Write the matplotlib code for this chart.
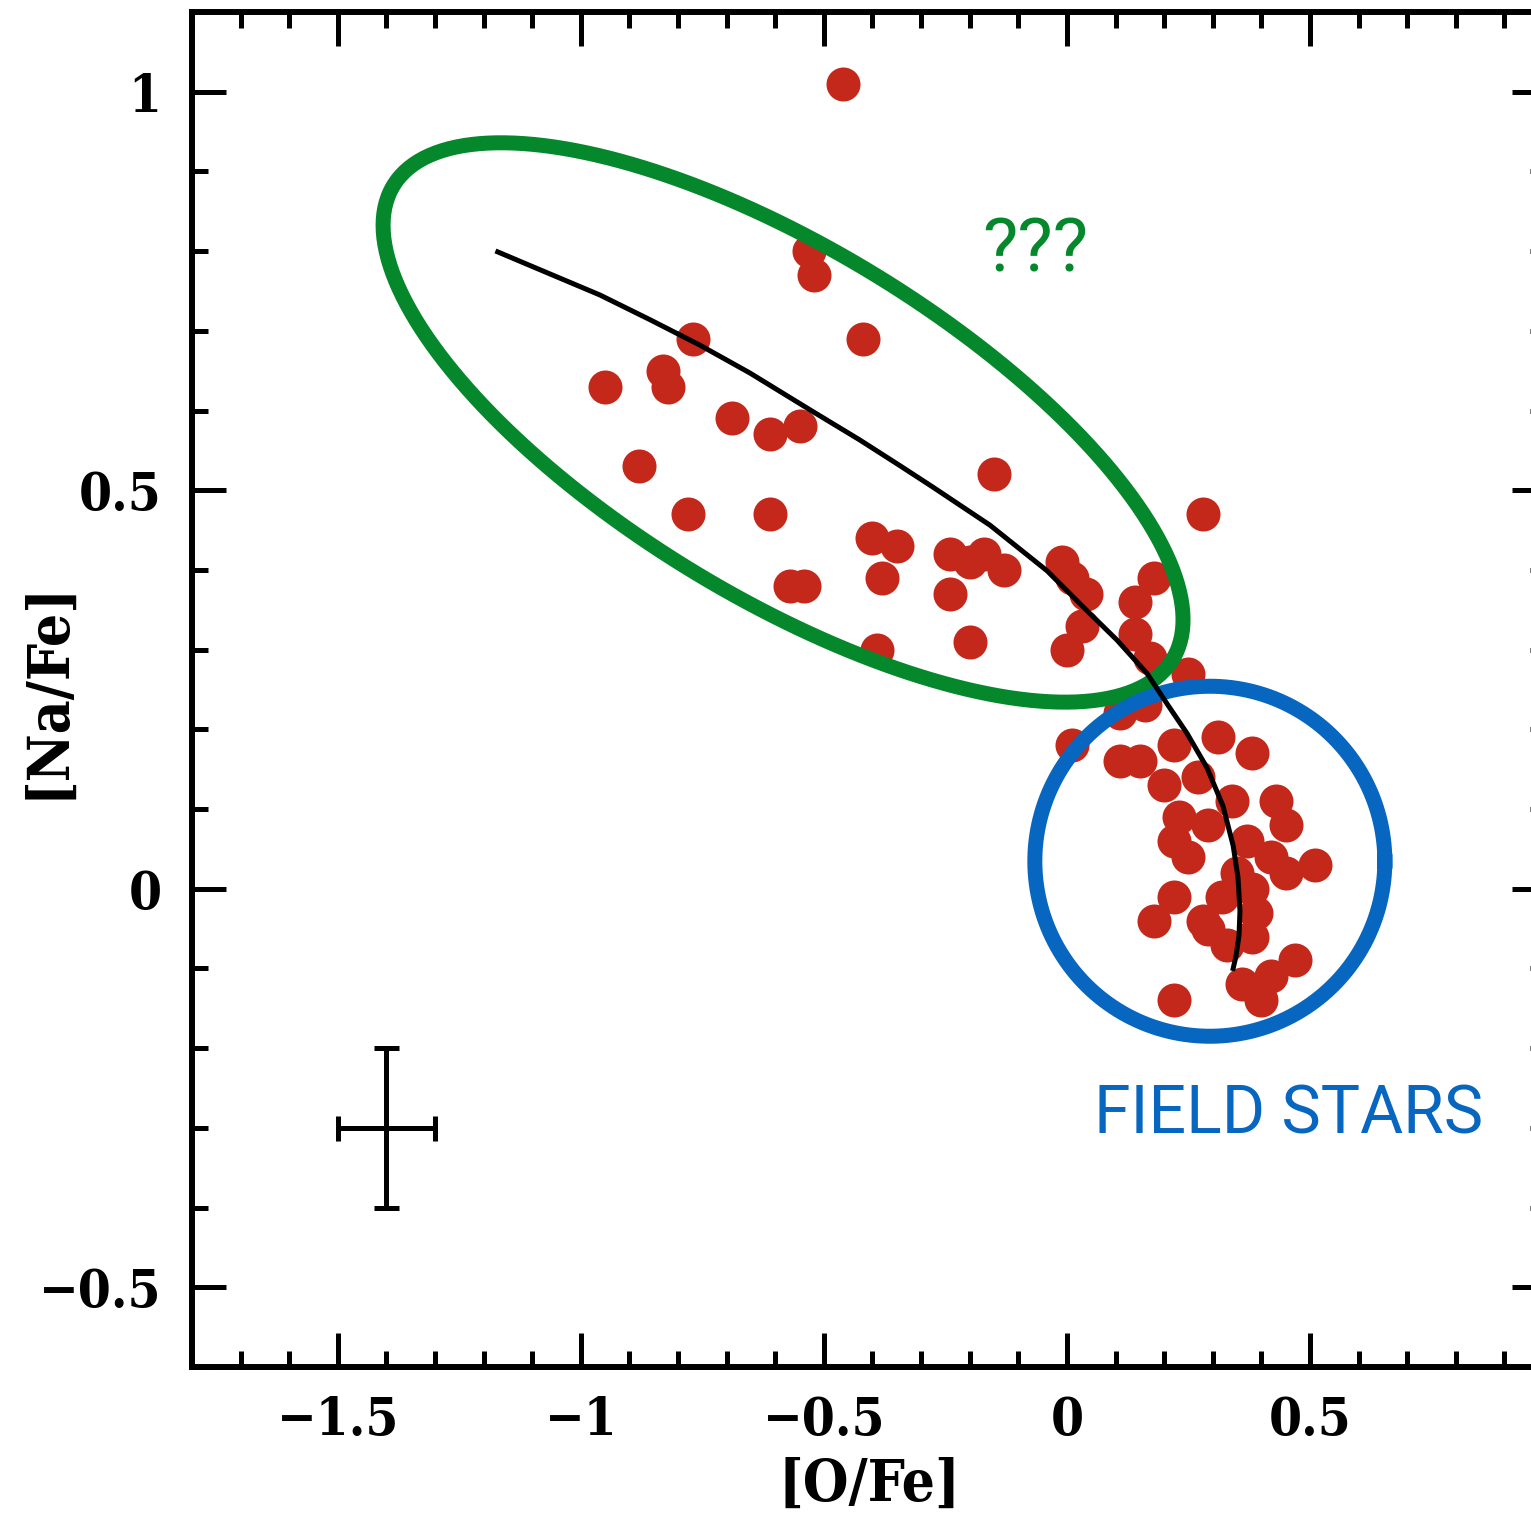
import numpy as np
import matplotlib
matplotlib.use("Agg")
import matplotlib.pyplot as plt
from matplotlib.ticker import MultipleLocator, FuncFormatter

# Stellar abundances: [O/Fe] vs [Na/Fe]
o_fe = [-0.46, -0.53, -0.52, -0.42, -0.77, -0.83, -0.82, -0.95, -0.69, -0.61, -0.55,
        -0.88, -0.78, -0.61, -0.15, -0.40, -0.35, -0.38, -0.57, -0.54, -0.39,
        -0.24, -0.17, -0.20, -0.13, -0.24, -0.20, 0.28, -0.01, 0.01, 0.04, 0.03, 0.00,
        0.18, 0.14, 0.14, 0.17, 0.25, 0.16, 0.11, 0.01, 0.11, 0.15, 0.22, 0.31, 0.38,
        0.20, 0.27, 0.34, 0.43, 0.23, 0.45, 0.22, 0.25, 0.29, 0.37, 0.42, 0.45, 0.51, 0.35,
        0.22, 0.18, 0.28, 0.32, 0.39, 0.33, 0.38, 0.29, 0.47, 0.42, 0.36, 0.40, 0.22, 0.38]
na_fe = [1.01, 0.80, 0.77, 0.69, 0.69, 0.65, 0.63, 0.63, 0.59, 0.57, 0.58,
         0.53, 0.47, 0.47, 0.52, 0.44, 0.43, 0.39, 0.38, 0.38, 0.30,
         0.42, 0.42, 0.41, 0.40, 0.37, 0.31, 0.47, 0.41, 0.39, 0.37, 0.33, 0.30,
         0.39, 0.36, 0.32, 0.29, 0.27, 0.23, 0.22, 0.18, 0.16, 0.16, 0.18, 0.19, 0.17,
         0.13, 0.14, 0.11, 0.11, 0.09, 0.08, 0.06, 0.04, 0.08, 0.06, 0.04, 0.02, 0.03, 0.02,
         -0.01, -0.04, -0.04, -0.01, -0.03, -0.07, -0.06, -0.05, -0.09, -0.11, -0.12, -0.14, -0.14, 0.00]

# Dilution model track
model_o = [-1.171, -1.070, -0.961, -0.858, -0.755, -0.652, -0.529, -0.426, -0.344, -0.276,
           -0.158, -0.041, 0.041, 0.103, 0.165, 0.206, 0.247, 0.288, 0.321, 0.342,
           0.352, 0.356, 0.354, 0.348, 0.342]
model_na = [0.799, 0.773, 0.745, 0.714, 0.682, 0.647, 0.601, 0.563, 0.531, 0.504,
            0.456, 0.399, 0.349, 0.312, 0.270, 0.232, 0.195, 0.152, 0.104, 0.054,
            0.014, -0.028, -0.059, -0.084, -0.100]

# Typical uncertainty
err_pos = (-1.4, -0.3)
err_o, err_na = 0.1, 0.1

RED = "#C3281A"
GREEN = "#05872C"
BLUE = "#0766BF"

fig = plt.figure(figsize=(15.31, 15.17), dpi=100)
ax = fig.add_axes([0.1254, 0.0989, 0.8844, 0.8932])
ax.set_xlim(-1.8, 0.9856)
ax.set_ylim(-0.6, 1.1)

ax.plot(o_fe, na_fe, "o", color=RED, ms=24.5, mec="none", zorder=2)
ax.errorbar(*err_pos, xerr=err_o, yerr=err_na, fmt="none", ecolor="black",
            elinewidth=3.6, capsize=9, capthick=3.6, zorder=3)

# Outline shapes are defined in screen space so they stay true ellipses/circles
sx = ax.bbox.width / (ax.get_xlim()[1] - ax.get_xlim()[0])
sy = ax.bbox.height / (ax.get_ylim()[1] - ax.get_ylim()[0])
t = np.linspace(0, 2 * np.pi, 400)

# Green ellipse around the Na-rich / O-poor group
ecx, ecy, ea, eb, eang = -0.584, 0.585, 456, 174, np.deg2rad(-31.3)
ex = ea * np.cos(t) * np.cos(eang) - eb * np.sin(t) * np.sin(eang)
ey = ea * np.cos(t) * np.sin(eang) + eb * np.sin(t) * np.cos(eang)
ax.plot(ecx + ex / sx, ecy + ey / sy, color=GREEN, lw=10.8, zorder=4,
        solid_capstyle="round")

# Blue circle around the field-star-like group
ccx, ccy, cr = 0.294, 0.0345, 175
ax.plot(ccx + cr * np.cos(t) / sx, ccy + cr * np.sin(t) / sy, color=BLUE, lw=10.8, zorder=5)

ax.plot(model_o, model_na, color="black", lw=3.6, zorder=6, solid_joinstyle="round")

ax.text(-0.066, 0.80, "???", color=GREEN, fontsize=54, family="Roboto",
        weight="normal", ha="center", va="center", zorder=7)
ax.text(0.455, -0.285, "FIELD STARS", color=BLUE, fontsize=47.5, family="Roboto",
        weight="normal", ha="center", va="center", zorder=7)

# Axes styling
for sp in ax.spines.values():
    sp.set_linewidth(4.3)
ax.xaxis.set_major_locator(MultipleLocator(0.5))
ax.xaxis.set_minor_locator(MultipleLocator(0.1))
ax.yaxis.set_major_locator(MultipleLocator(0.5))
ax.yaxis.set_minor_locator(MultipleLocator(0.1))
fmt = FuncFormatter(lambda v, p: ("%g" % round(v, 2)).replace("-", "\u2212"))
ax.xaxis.set_major_formatter(fmt)
ax.yaxis.set_major_formatter(fmt)
ax.tick_params(which="both", direction="in", top=True, right=True, width=3.6)
ax.tick_params(which="major", length=24.5, pad=20)
ax.tick_params(axis="y", which="major", pad=22)
ax.tick_params(which="minor", length=11.5)

tick_font = dict(family="DejaVu Serif", weight="bold", size=38, stretch="condensed")
for lab in ax.get_xticklabels() + ax.get_yticklabels():
    lab.set_fontfamily(tick_font["family"])
    lab.set_fontweight(tick_font["weight"])
    lab.set_fontsize(tick_font["size"])
    lab.set_fontstretch(tick_font["stretch"])

label_font = dict(tick_font, size=42)
ax.set_xlabel("[O/Fe]", **label_font)
ax.set_ylabel("[Na/Fe]", **label_font)
ax.xaxis.set_label_coords(0.5, -0.066)
ax.yaxis.set_label_coords(-0.086, 0.5)

fig.savefig("out.png", dpi=100)
